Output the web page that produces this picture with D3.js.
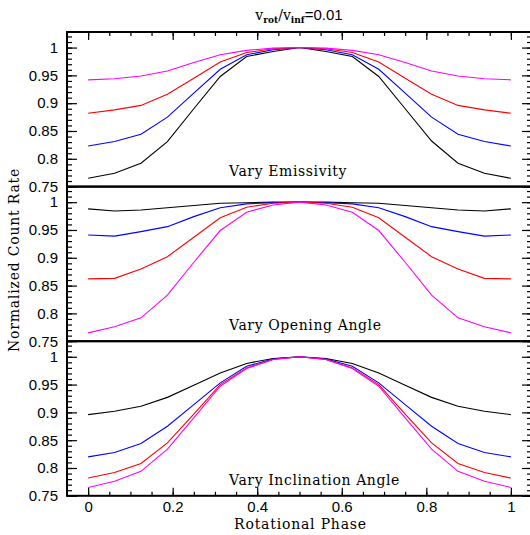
<!DOCTYPE html>
<html>
<head>
<meta charset="utf-8">
<script src="https://d3js.org/d3.v7.min.js"></script>
<style>
  body { margin: 0; background: #fff; }
  .tick text { font-family: "Liberation Sans", Arial, sans-serif; font-size: 15px; fill: #000; }
  .lbl { font-family: "DejaVu Serif", serif; font-size: 14px; fill: #000; }
</style>
</head>
<body>
<div id="container"></div>
<script>
var width = 530, height = 535;

// rotational phase samples
var phase = [0, 0.0625, 0.125, 0.1875, 0.25, 0.3125, 0.375, 0.4375, 0.5,
             0.5625, 0.625, 0.6875, 0.75, 0.8125, 0.875, 0.9375, 1];

// panel 1: vary emissivity
var emisBlack   = [0.765, 0.774, 0.792, 0.831, 0.890, 0.948, 0.984, 0.993, 1.0, 0.993, 0.984, 0.948, 0.890, 0.832, 0.792, 0.774, 0.765];
var emisBlue    = [0.823, 0.831, 0.844, 0.875, 0.918, 0.961, 0.987, 0.996, 1.0, 0.996, 0.987, 0.961, 0.918, 0.875, 0.844, 0.831, 0.823];
var emisRed     = [0.882, 0.888, 0.896, 0.916, 0.945, 0.974, 0.991, 0.998, 1.0, 0.998, 0.991, 0.974, 0.945, 0.916, 0.896, 0.888, 0.882];
var emisMagenta = [0.942, 0.944, 0.949, 0.958, 0.973, 0.987, 0.995, 0.999, 1.0, 0.999, 0.995, 0.987, 0.973, 0.958, 0.949, 0.944, 0.942];

// panel 2: vary opening angle
var openBlack   = [0.988, 0.984, 0.986, 0.990, 0.994, 0.998, 0.999, 1.0, 1.0, 1.0, 0.999, 0.998, 0.994, 0.990, 0.986, 0.984, 0.988];
var openBlue    = [0.941, 0.939, 0.947, 0.956, 0.974, 0.990, 0.997, 0.999, 1.0, 0.999, 0.997, 0.990, 0.974, 0.956, 0.947, 0.939, 0.941];
var openRed     = [0.862, 0.863, 0.880, 0.902, 0.937, 0.972, 0.991, 0.998, 1.0, 0.998, 0.991, 0.972, 0.937, 0.902, 0.880, 0.863, 0.862];
var openMagenta = [0.765, 0.776, 0.792, 0.833, 0.892, 0.949, 0.982, 0.995, 1.0, 0.995, 0.982, 0.949, 0.892, 0.833, 0.792, 0.776, 0.765];

// panel 3: vary inclination angle
var inclBlack   = [0.896, 0.902, 0.911, 0.927, 0.949, 0.971, 0.988, 0.997, 1.0, 0.997, 0.988, 0.971, 0.949, 0.927, 0.911, 0.902, 0.896];
var inclBlue    = [0.820, 0.828, 0.844, 0.875, 0.914, 0.953, 0.983, 0.996, 1.0, 0.996, 0.983, 0.953, 0.914, 0.875, 0.844, 0.828, 0.820];
var inclRed     = [0.782, 0.792, 0.808, 0.845, 0.897, 0.950, 0.980, 0.995, 1.0, 0.995, 0.980, 0.950, 0.897, 0.845, 0.808, 0.792, 0.782];
var inclMagenta = [0.765, 0.776, 0.794, 0.834, 0.890, 0.947, 0.979, 0.995, 1.0, 0.995, 0.979, 0.947, 0.890, 0.834, 0.794, 0.776, 0.765];

var panelLabels = ["Vary Emissivity", "Vary Opening Angle", "Vary Inclination Angle"];
var panelSeries = [
  [emisBlack, emisBlue, emisRed, emisMagenta],
  [openBlack, openBlue, openRed, openMagenta],
  [inclBlack, inclBlue, inclRed, inclMagenta]
];
var colors = ["#000000", "#0000ff", "#ff0000", "#ff00ff"];

var yTicks = [0.75, 0.8, 0.85, 0.9, 0.95, 1];
var xTicks = [0, 0.2, 0.4, 0.6, 0.8, 1];

var plotLeft = 67, plotRight = 532, plotTop = 32, panelH = 154.6;

var x = d3.scaleLinear().domain([-0.05, 1.05]).range([plotLeft, plotRight]);

var svg = d3.select("#container").append("svg")
    .attr("width", width)
    .attr("height", height);

var yMinor = d3.range(75, 103).map(function(d) { return d / 100; });
var xMinor = d3.range(0, 21).map(function(d) { return d / 20; });
var fmt = function(d) { return String(+d.toFixed(2)); };

panelSeries.forEach(function(series, i) {
  var y0 = plotTop + i * panelH;
  var y = d3.scaleLinear().domain([0.75, 1.028]).range([y0 + panelH, y0]);
  var g = svg.append("g");

  // left axis, ticks point inward
  g.append("g").attr("transform", "translate(" + plotLeft + ",0)")
    .call(d3.axisLeft(y).tickValues(yMinor).tickSize(-5).tickFormat(""));
  g.append("g").attr("transform", "translate(" + plotLeft + ",0)")
    .call(d3.axisLeft(y).tickValues(yTicks).tickSize(-10).tickPadding(9).tickFormat(fmt));
  // right axis
  g.append("g").attr("transform", "translate(" + plotRight + ",0)")
    .call(d3.axisRight(y).tickValues(yMinor).tickSize(-5).tickFormat(""));
  g.append("g").attr("transform", "translate(" + plotRight + ",0)")
    .call(d3.axisRight(y).tickValues(yTicks).tickSize(-10).tickFormat(""));

  if (i === 0) {
    g.append("g").attr("transform", "translate(0," + y0 + ")")
      .call(d3.axisTop(x).tickValues(xMinor).tickSize(-4).tickFormat(""));
    g.append("g").attr("transform", "translate(0," + y0 + ")")
      .call(d3.axisTop(x).tickValues(xTicks).tickSize(-8).tickFormat(""));
  }
  if (i === 2) {
    g.append("g").attr("transform", "translate(0," + (y0 + panelH) + ")")
      .call(d3.axisBottom(x).tickValues(xMinor).tickSize(-4).tickFormat(""));
    g.append("g").attr("transform", "translate(0," + (y0 + panelH) + ")")
      .call(d3.axisBottom(x).tickValues(xTicks).tickSize(-8).tickPadding(6).tickFormat(fmt));
  }
  g.selectAll(".domain").remove();
  g.selectAll(".tick line").attr("stroke", "#000").attr("stroke-width", 1.2);

  var line = d3.line()
    .x(function(d, k) { return x(phase[k]); })
    .y(function(d) { return y(d); });

  series.forEach(function(s, j) {
    g.append("path")
      .attr("d", line(s))
      .attr("fill", "none")
      .attr("stroke", colors[j])
      .attr("stroke-width", 1.1);
  });

  g.append("rect")
    .attr("x", plotLeft).attr("y", y0)
    .attr("width", plotRight - plotLeft).attr("height", panelH)
    .attr("fill", "none").attr("stroke", "#000").attr("stroke-width", 2);

  g.append("text").attr("class", "lbl")
    .attr("x", 229).attr("y", y0 + panelH - 11)
    .attr("letter-spacing", 0.6)
    .text(panelLabels[i]);
});

// title
var title = svg.append("text")
  .attr("x", 299).attr("y", 20)
  .attr("text-anchor", "middle");
title.append("tspan").attr("font-family", "DejaVu Serif").attr("font-size", 14).text("v");
title.append("tspan").attr("font-family", "DejaVu Serif").attr("font-size", 9).attr("font-weight", "bold").attr("dy", 3).text("rot");
title.append("tspan").attr("font-family", "DejaVu Serif").attr("font-size", 14).attr("dy", -3).text("/v");
title.append("tspan").attr("font-family", "DejaVu Serif").attr("font-size", 9).attr("font-weight", "bold").attr("dy", 3).text("inf");
title.append("tspan").attr("font-family", "Liberation Sans").attr("font-size", 15).attr("dy", -3).text("=0.01");

// axis titles
svg.append("text").attr("class", "lbl")
  .attr("x", (plotLeft + plotRight) / 2 + 1).attr("y", 529)
  .attr("text-anchor", "middle")
  .attr("letter-spacing", 0.8)
  .text("Rotational Phase");

svg.append("text").attr("class", "lbl")
  .attr("transform", "translate(19,260) rotate(-90)")
  .attr("text-anchor", "middle")
  .attr("letter-spacing", 0.8)
  .text("Normalized Count Rate");
</script>
</body>
</html>
